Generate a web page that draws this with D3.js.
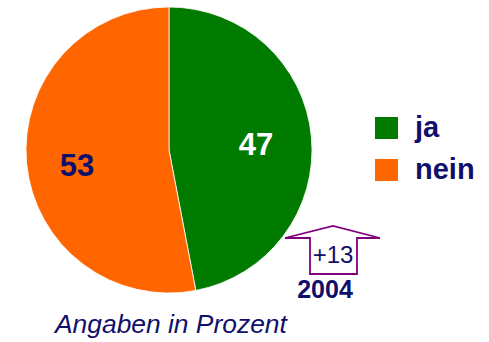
<!DOCTYPE html>
<html>
<head>
<meta charset="utf-8">
<script src="https://cdn.jsdelivr.net/npm/d3@7"></script>
<style>
  html, body { margin: 0; padding: 0; background: #fff; }
  svg { display: block; font-family: Arial, "Liberation Sans", sans-serif; }
</style>
</head>
<body>
<svg id="chart" width="489" height="342"></svg>
<script>
// Share of answers (percent)
const categories = ["ja", "nein"];
const values = [47, 53];
const colors = ["#007b00", "#ff6600"];
const labelColors = ["#ffffff", "#10106a"];
const changeLabel = "+13";
const yearLabel = "2004";
const footnote = "Angaben in Prozent";

const navy = "#10106a";
const svg = d3.select("#chart");

// Pie
const cx = 169, cy = 150, r = 143;
const pie = d3.pie().sort(null).value(d => d.value);
const arcs = pie(categories.map((c, i) => ({ cat: c, value: values[i], i })));
const arc = d3.arc().innerRadius(0).outerRadius(r);

const g = svg.append("g").attr("transform", `translate(${cx},${cy})`);
g.selectAll("path.slice")
  .data(arcs)
  .join("path")
  .attr("class", "slice")
  .attr("d", arc)
  .attr("fill", d => colors[d.data.i])
  .attr("stroke", "#fff")
  .attr("stroke-width", 0.8);

// Slice value labels
const labelPos = [[87, 5], [-92, 26]];
g.selectAll("text.val")
  .data(arcs)
  .join("text")
  .attr("class", "val")
  .attr("x", d => labelPos[d.data.i][0])
  .attr("y", d => labelPos[d.data.i][1])
  .attr("text-anchor", "middle")
  .attr("font-weight", "bold")
  .attr("font-size", 31)
  .attr("fill", d => labelColors[d.data.i])
  .text(d => d.data.value);

// Legend
const lg = svg.append("g").attr("transform", "translate(375,117)");
categories.forEach((c, i) => {
  lg.append("rect")
    .attr("x", 0).attr("y", i * 42)
    .attr("width", 23).attr("height", 22)
    .attr("fill", colors[i]);
  lg.append("text")
    .attr("x", 40).attr("y", i * 42 + 20)
    .attr("font-weight", "bold")
    .attr("font-size", 29)
    .attr("fill", navy)
    .text(c);
});

// Change arrow
const arrow = d3.path();
arrow.moveTo(310, 274);
arrow.lineTo(310, 238);
arrow.lineTo(285, 238);
arrow.lineTo(333, 226);
arrow.lineTo(380, 238);
arrow.lineTo(357, 238);
arrow.lineTo(357, 274);
arrow.closePath();
svg.append("path")
  .attr("d", arrow.toString())
  .attr("fill", "none")
  .attr("stroke", "#800080")
  .attr("stroke-width", 1.8);

svg.append("text")
  .attr("x", 333).attr("y", 263)
  .attr("text-anchor", "middle")
  .attr("font-size", 24)
  .attr("fill", navy)
  .text(changeLabel);

svg.append("text")
  .attr("x", 325).attr("y", 298)
  .attr("text-anchor", "middle")
  .attr("font-weight", "bold")
  .attr("font-size", 25)
  .attr("fill", navy)
  .text(yearLabel);

// Footnote
svg.append("text")
  .attr("x", 55).attr("y", 333)
  .attr("font-style", "italic")
  .attr("font-size", 26.4)
  .attr("fill", navy)
  .text(footnote);
</script>
</body>
</html>
